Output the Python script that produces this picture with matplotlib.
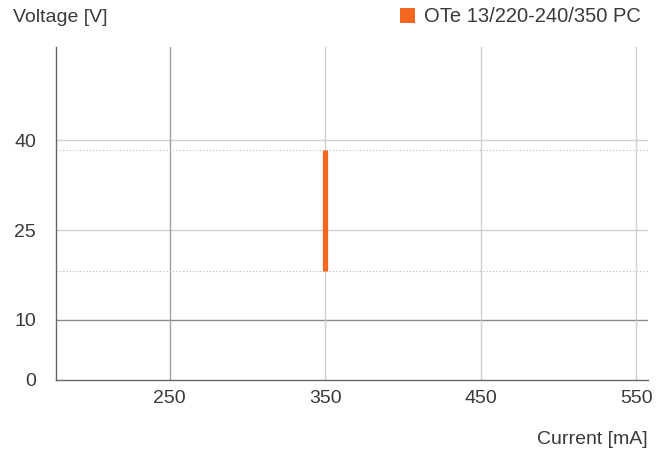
import matplotlib.pyplot as plt
from matplotlib.patches import Patch

# data
series_name = "OTe 13/220-240/350 PC"
current_ma = [350]
voltage_min = [18.2]
voltage_max = [38.3]
x_ticks = [250, 350, 450, 550]
y_ticks = [0, 10, 25, 40]

orange = "#f5671f"
text_col = "#3a3a3a"

plt.rcParams['font.family'] = ['Liberation Sans', 'DejaVu Sans']

fig = plt.figure(figsize=(6.66, 4.55), dpi=100)
ax = fig.add_axes([55.5 / 666, 1 - 380 / 455, (648 - 55.5) / 666, (380 - 47) / 455])

ax.set_xlim(176.7, 557.5)
ax.set_ylim(0, 55.5)

# grid lines
for y in y_ticks[1:]:
    col = "#8a8a8a" if y == 10 else "#cfcfcf"
    ax.axhline(y, color=col, lw=1.0, zorder=1)
for x in x_ticks:
    col = "#a0a0a0" if x == 250 else "#cfcfcf"
    ax.axvline(x, color=col, lw=1.0, zorder=1)

# voltage range limits
for v in voltage_min + voltage_max:
    ax.axhline(v, color="#b5b5b5", lw=0.8, ls=(0, (1, 2)), zorder=1)

ax.vlines(current_ma, voltage_min, voltage_max, colors=orange, lw=3.8, zorder=3)

for side in ["top", "right"]:
    ax.spines[side].set_visible(False)
for side in ["left", "bottom"]:
    ax.spines[side].set_color("#666666")
    ax.spines[side].set_linewidth(1.0)

ax.set_xticks(x_ticks)
ax.set_yticks(y_ticks)
ax.tick_params(length=0, labelsize=14, labelcolor=text_col)
ax.tick_params(axis='x', pad=7)
ax.tick_params(axis='y', pad=14)

fig.text(13 / 666, 1 - 17 / 455, "Voltage [V]", fontsize=14, color=text_col, va="center", ha="left")
fig.text(648 / 666, 1 - 440 / 455, "Current [mA]", fontsize=14, color=text_col, va="center", ha="right")

handle = Patch(facecolor=orange, edgecolor="none", label=series_name)
fig.legend(handles=[handle], loc="center right", bbox_to_anchor=(651 / 666, 1 - 17 / 455),
           frameon=False, fontsize=14.5, handlelength=0.75, handleheight=0.75,
           handletextpad=0.45, labelcolor=text_col, borderpad=0)

fig.savefig("out.png", dpi=100)
